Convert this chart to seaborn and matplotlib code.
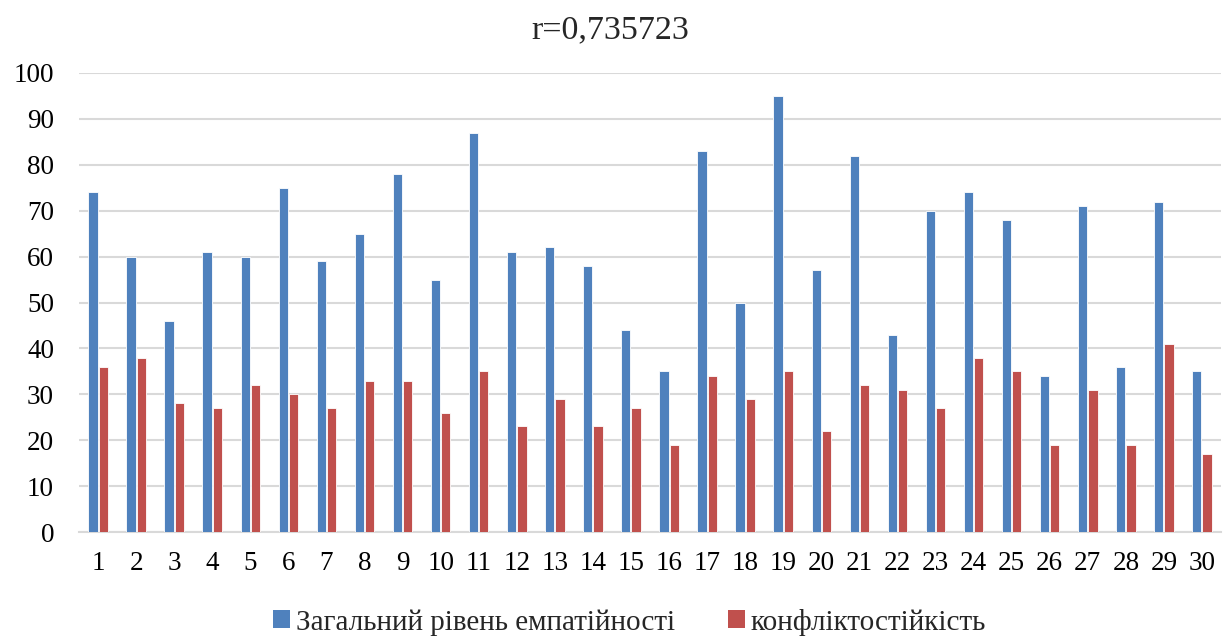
import matplotlib
matplotlib.use("Agg")
import matplotlib.pyplot as plt
import seaborn as sns
import pandas as pd
from matplotlib.patches import Patch

categories = [str(i) for i in range(1, 31)]
empathy = [74, 60, 46, 61, 60, 75, 59, 65, 78, 55, 87, 61, 62, 58, 44,
           35, 83, 50, 95, 57, 82, 43, 70, 74, 68, 34, 71, 36, 72, 35]
conflict = [36, 38, 28, 27, 32, 30, 27, 33, 33, 26, 35, 23, 29, 23, 27,
            19, 34, 29, 35, 22, 32, 31, 27, 38, 35, 19, 31, 19, 41, 17]
series_names = ["Загальний рівень емпатійності", "конфліктостійкість"]
title = "r=0,735723"

colors = ["#4F81BD", "#C0504D"]

df = pd.DataFrame({
    "cat": categories * 2,
    "value": empathy + conflict,
    "series": [series_names[0]] * len(categories) + [series_names[1]] * len(categories),
})

sns.set_theme(style="white")
plt.rcParams["font.family"] = ["Liberation Serif", "DejaVu Serif"]

fig = plt.figure(figsize=(12.3, 6.4), dpi=100)
ax = fig.add_axes([79 / 1230, 1 - 532 / 640, (1221 - 79) / 1230, (532 - 73) / 640])

sns.barplot(data=df, x="cat", y="value", hue="series", order=categories,
            hue_order=series_names, palette=colors, saturation=1, width=0.54, gap=0.1,
            edgecolor="white", linewidth=0.6, ax=ax, legend=False, zorder=3)

ax.set_ylim(0, 100)
ax.set_yticks(range(0, 101, 10))
ax.set_xlim(-0.5, len(categories) - 0.5)
ax.yaxis.grid(True, color="#D9D9D9", linewidth=1.5, zorder=0)
ax.set_axisbelow(True)
for s in ["top", "right", "left"]:
    ax.spines[s].set_visible(False)
ax.spines["bottom"].set_color("#D9D9D9")
ax.spines["bottom"].set_linewidth(1.5)
ax.set_xlabel("")
ax.set_ylabel("")
ax.tick_params(axis="y", length=0, pad=18, labelsize=19.5, colors="black")
ax.tick_params(axis="x", length=0, pad=14, labelsize=19.5, colors="black")

fig.text(610 / 1230, 1 - 30 / 640, title, ha="center", va="center", fontsize=24.5)

handles = [Patch(facecolor=c, edgecolor="none") for c in colors]
fig.legend(handles, series_names, loc="center", bbox_to_anchor=(629.5 / 1230, 1 - 622 / 640),
           ncol=2, frameon=False, prop={"family": ["Liberation Serif"], "size": 21},
           handlelength=0.6, handleheight=0.6, handletextpad=0.2, columnspacing=1.8)

fig.savefig("out.png", dpi=100)
